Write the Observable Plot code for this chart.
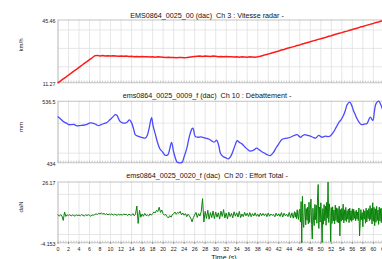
<!DOCTYPE html>
<html>
<head>
<meta charset="utf-8">
<script src="https://cdn.jsdelivr.net/npm/d3@7"></script>
<script src="https://cdn.jsdelivr.net/npm/@observablehq/plot@0.6"></script>
<style>
  html, body { margin: 0; padding: 0; background: #fff; overflow: hidden; }
  #wrap { position: relative; width: 414px; height: 259px; overflow: hidden; font-family: "Liberation Sans", Arial, sans-serif; }
  .ttl { position: absolute; left: 0; width: 414px; text-align: center; font-size: 7.2px; line-height: 1; color: #111; white-space: pre; }
</style>
</head>
<body>
<div id="wrap"></div>
<script>
// ---------------- data ----------------
const titles = [
  "EMS0864_0025_00 (dac)  Ch 3 : Vitesse radar -",
  "ems0864_0025_0009_f (dac)  Ch 10 : Débattement -",
  "ems0864_0025_0020_f (dac)  Ch 20 : Effort Total -"
];
const units = ["km/h", "mm", "daN"];
const xLabel = "Time (s)";
const xDomain = [0, 64];
const xTickLabels = [0,2,4,6,8,10,12,14,16,18,20,22,24,26,28,30,32,34,36,38,40,42,44,46,48,50,52,54,56,58,60,62,64];

// Panel 1 : Vitesse radar (km/h), sampled every 0.5 s from t = 0
const speedStep = 0.5;
const speed = [
  11.27, 12.3, 13.4, 14.4, 15.5, 16.5, 17.6, 18.6, 19.7, 20.7, 21.8, 22.8, 23.9, 24.9,
  26.0, 26.2, 25.9, 26.1, 25.9, 26.0, 25.8, 26.0, 25.9, 25.7, 25.9,
  25.7, 25.8, 25.6, 25.7, 25.5, 25.6, 25.4, 25.6, 25.4, 25.5, 25.3, 25.4, 25.2, 25.4, 25.3, 25.2,
  25.1, 25.2, 25.0, 25.1, 24.9, 25.0, 25.1, 24.9, 25.0, 25.2, 25.4,
  25.6, 25.7, 25.8, 25.6, 25.8, 25.7, 25.6, 25.8, 25.7, 25.5, 25.6, 25.5, 25.6, 25.4, 25.5,
  25.3, 25.4, 25.2, 25.4, 25.3, 25.2, 25.4, 25.3, 25.2, 25.4,
  25.7, 26.1, 26.6, 26.9, 27.4, 27.8, 28.2, 28.6, 29.1, 29.4, 29.9, 30.3, 30.7, 31.1, 31.6, 31.9,
  32.4, 32.8, 33.2, 33.6, 34.1, 34.4, 34.9, 35.3, 35.7, 36.1, 36.6, 36.9, 37.4, 37.8, 38.2, 38.6,
  39.1, 39.4, 39.9, 40.3, 40.7, 41.1, 41.6, 41.9, 42.4, 42.8, 43.2, 43.6, 44.1, 44.4, 44.9,
  45.1, 45.46, 45.3, 45.4, 45.2
];
const speedTicks = [11.27, 45.46];
const speedTickLabels = ["11.27", "45.46"];
const speedGrid = [20, 30, 40];

// Panel 2 : Débattement (mm)
const travelT = [0,0.5,1.0,1.5,2.0,2.5,3.0,3.6,4.2,4.8,5.5,6.1,6.6,7.2,7.7,8.2,8.6,9.3,9.9,10.4,10.9,11.2,11.5,11.8,12.3,12.8,13.2,13.6,14.0,14.4,14.7,15.3,15.9,16.6,17.0,17.3,17.8,18.1,18.5,19.0,19.4,19.9,20.4,20.9,21.2,21.6,22.0,22.4,22.7,23.2,23.6,24.0,24.5,25.0,25.5,25.7,26.1,26.6,27.2,27.7,28.3,28.8,29.3,29.7,30.2,30.6,30.9,31.4,31.9,32.4,32.8,33.1,33.6,34.1,34.5,35.0,35.6,36.1,36.6,37.2,37.8,38.3,38.8,39.3,39.8,40.4,41.0,41.5,42.0,42.5,42.9,43.6,44.2,44.8,45.5,46.1,46.5,47.0,47.5,48.0,48.5,49.0,49.6,50.2,50.9,51.4,51.8,52.4,52.8,53.1,53.5,53.8,54.3,54.7,55.0,55.5,55.9,56.2,56.6,56.9,57.4,57.8,58.3,58.8,59.4,59.9,60.2,60.5,61.0,61.4,61.7,62.2,62.8,63.4,64];
const travel  = [510.5,507,502.7,500.5,497.5,497.5,497.8,495.5,496,496.5,498,500.5,500,498,495.8,497.5,499,501,506,510,514,513,508,503,500.5,500,502,505.5,500.5,490,481,478,476.5,475,480,490,509,495,482,466,457,452,446.5,447.5,455,468,452,440,435,434,434.5,444,458,478,490.6,491.5,478,476.5,477,476,474.5,473,470,468.5,471.5,462,450,444.5,442.5,440.5,444,449,461,471,468,465.5,460,456,453.5,455,458.5,455.5,452.5,450,447.5,446,451.5,459,465.5,472,474,475,476.5,479,481,476.5,479,481,479.5,478.5,476.5,475,479.5,476.5,478.5,477.5,478.5,485,491,496,502,505,512.7,522,530.5,534.8,529,521,513,507.2,500,497.5,498.5,499.5,510,504.5,520,532.5,536.5,531,524,515,510,512,515];
const travelTicks = [434, 536.5];
const travelTickLabels = ["434", "536.5"];
const travelGrid = [450, 500];

// Panel 3 : Effort Total (daN)
// part A : every 0.25 s from t = 0 to t = 45
const forceStepA = 0.25;
const forceStartA = 0;
const forceA = [
  9.8, 9.1, 9.9, 9.3,   7.0, 11.2, 9.0, 9.8,   9.4, 9.9, 9.2, 9.7,   9.5, 9.1, 9.8, 9.4,
  9.7, 9.3, 9.9, 9.5,   9.2, 9.8, 9.4, 9.9,   9.5, 9.1, 9.7, 9.6,   9.9, 10.3, 10.0, 10.6,
  10.2, 10.8, 10.1, 10.5, 9.9, 10.4, 9.7, 10.2, 9.8, 10.3, 9.6, 10.1, 9.9, 9.5, 10.2, 9.7,
  10.0, 9.6, 10.3, 9.8, 10.1, 9.4, 10.2, 9.7,  9.6, 10.4, 9.3, 10.1,  14.2, 5.5, 12.0, 8.6,
  10.2, 9.1, 10.5, 9.4, 9.8, 9.2, 10.3, 9.6,  10.4, 11.2, 10.8, 12.0, 11.4, 13.6, 11.0, 12.2,
  10.3, 9.6, 10.0, 8.9, 8.2, 9.4, 8.6, 9.9,   10.3, 11.2, 10.1, 11.0, 10.6, 11.5, 9.8, 10.7,
  9.6, 10.4, 8.9, 10.1, 9.3, 8.1, 6.3, 8.4,   9.8, 11.0, 8.5, 10.4,  9.2, 11.4, 17.9, 6.2,
  11.5, 8.0, 12.1, 7.6, 10.9, 8.4, 11.7, 7.9, 11.2, 8.6, 10.8, 7.7, 11.6, 9.0, 12.4, 8.2,
  10.7, 7.8, 11.1, 8.9, 10.5, 8.3, 11.3, 9.1, 10.8, 8.7, 11.5, 8.4, 10.2, 8.9, 11.0, 9.3,
  10.6, 9.0, 10.9, 8.8, 10.4, 9.2, 10.8, 9.1, 10.1, 8.9, 10.6, 9.3, 10.5, 9.4, 10.3, 8.9,
  10.7, 9.1, 10.2, 9.5, 10.0, 8.8, 10.6, 9.2, 10.3, 9.0, 10.9, 8.7, 10.6, 9.3, 10.1, 8.9,
  11.0, 8.4, 10.8, 8.1,
  11.4
];
// part B : every 0.125 s from t = 45.125 to t = 64
const forceStepB = 0.125;
const forceStartB = 45.125;
const forceB = [
  8.6, 10.9, 7.9, 12.3, 9.1, 7.5, 11.8, 12.6,
  6.2, 16.4, -4.153, 19.0, 5.3, 3.5, 14.8, 15.2,
  4.8, 12.9, 7.1, 13.6, 5.3, 16.1, 6.0, 12.5,
  17.6, 4.9, -2.3, 13.1, 6.8, 4.4, 15.0, 7.4,
  14.6, 5.6, 18.2, 24.9, 3.0, 13.7, 6.2, 15.8,
  7.5, -4.0, 12.9, 5.1, 14.9, 6.9, 14.2, 4.6,
  16.0, 8.1, 26.17, 6.0, 15.3, 11.4, -3.5, 13.4,
  5.5, 13.8, 6.7, 12.2, 5.2, 14.6, 7.0, 13.3,
  6.1, 12.9, 5.8, 14.1, -0.7, 12.4, 6.6, 13.0,
  7.3, 15.1, 5.8, 12.3, 7.0, 13.5, 6.4, 11.9,
  7.6, 12.7, 5.9, 13.2, 7.1, 11.8, 6.5, 12.8,
  7.2, 12.6, 8.0, 11.5, 6.8, 12.1, 7.7, 11.2,
  6.9, 13.2, -0.7, 6.0, 12.4, 7.4, 10.9, 3.8,
  12.4, 7.6, 11.8, 5.6, 13.1, 6.3, 12.0, 7.9,
  12.9, 6.9, 14.4, 7.5, 13.0, 5.2, 15.8, 6.6,
  13.5, 4.4, 12.8, 6.1, 14.0, 7.0, 12.2, 5.0,
  13.6, 6.8, 12.9, 5.9, 13.1, 7.2, 12.5, 6.4,
  12.8, 7.3, 13.4, 6.0, 12.1, 7.5, 12.9, 6.7,
  13.0, 6.2, 12.6, 7.1, 12.3, 7.8, 11.6, 11.0
];
const forceTicks = [-4.153, 26.17];
const forceTickLabels = ["-4.153", "26.17"];
const forceGrid = [0, 10, 20];

// ---------------- drawing ----------------
const W = 414, H = 259;
const wrap = document.getElementById("wrap");
const FONT = "'Liberation Sans', Arial, Helvetica, sans-serif";
const minorTicks = d3.range(0, 64.001, 0.5);

function panel({data, color, width, curve, top, bottom, ticks, tickLabels, grid, unit, showX, titleText, titleY}) {
  const yDomain = [ticks[0], ticks[1]];
  const span = yDomain[1] - yDomain[0];
  const labelOf = new Map(ticks.map((t, i) => [t, tickLabels[i]]));
  const marks = [
    Plot.gridX(d3.range(0, 64.001, 2), {stroke: "#dcdcdc", strokeOpacity: 1, strokeWidth: 0.7}),
    Plot.gridY(grid, {stroke: "#dcdcdc", strokeOpacity: 1, strokeWidth: 0.7}),
    Plot.ruleX(minorTicks, {x: d => d, y1: yDomain[0], y2: yDomain[0] + span * 0.025, stroke: "#9a9a9a", strokeWidth: 0.6}),
    Plot.frame({stroke: "#b4b4b4", strokeWidth: 0.8}),
    Plot.line(data, {x: "t", y: "v", stroke: color, strokeWidth: width, curve}),
    Plot.axisY(ticks, {tickSize: 0, tickPadding: 2.5, fontSize: 5.3, label: null, dy: 1, fill: "#222", tickFormat: d => labelOf.get(d)}),
    Plot.text([unit], {text: d => d, frameAnchor: "left", rotate: -90, dx: -36.7, fontSize: 6, fill: "#222"})
  ];
  if (showX) {
    marks.push(Plot.axisX(xTickLabels, {tickSize: 1.5, tickPadding: 3, fontSize: 5.3, label: null, stroke: "#888", fill: "#222", tickFormat: d => String(d)}));
  }
  const svg = Plot.plot({
    width: W, height: H,
    marginLeft: 57.5, marginRight: 20.1,
    marginTop: top, marginBottom: H - bottom,
    x: {domain: xDomain, axis: showX ? undefined : null},
    y: {domain: yDomain},
    style: `position:absolute;left:0;top:0;background:transparent;max-width:none;overflow:visible;font-family:${FONT};color:#222;`,
    marks
  });
  wrap.appendChild(svg);
  const t = document.createElement("div");
  t.className = "ttl";
  t.style.top = (titleY - 3.8) + "px";
  t.textContent = titleText;
  wrap.appendChild(t);
}

panel({
  data: speed.map((v, i) => ({t: i * speedStep, v})),
  color: "#ff1a1a", width: 1.5, curve: "linear",
  top: 19.5, bottom: 82.3, ticks: speedTicks, tickLabels: speedTickLabels, grid: speedGrid,
  unit: units[0], showX: false, titleText: titles[0], titleY: 15.5
});
panel({
  data: travelT.map((t, i) => ({t, v: travel[i]})),
  color: "#4a4aff", width: 1.3, curve: "catmull-rom",
  top: 100.7, bottom: 162.3, ticks: travelTicks, tickLabels: travelTickLabels, grid: travelGrid,
  unit: units[1], showX: false, titleText: titles[1], titleY: 96
});
panel({
  data: forceA.map((v, i) => ({t: forceStartA + i * forceStepA, v}))
    .concat(forceB.map((v, i) => ({t: forceStartB + i * forceStepB, v}))),
  color: "#0a840a", width: 1, curve: "linear",
  top: 181.5, bottom: 242.3, ticks: forceTicks, tickLabels: forceTickLabels, grid: forceGrid,
  unit: units[2], showX: true, titleText: titles[2], titleY: 175.5
});

const xl = document.createElement("div");
xl.className = "ttl";
xl.style.left = "0px";
xl.style.width = "448px";
xl.style.fontSize = "7px";
xl.style.top = "254px";
xl.textContent = xLabel;
wrap.appendChild(xl);
</script>
</body>
</html>
